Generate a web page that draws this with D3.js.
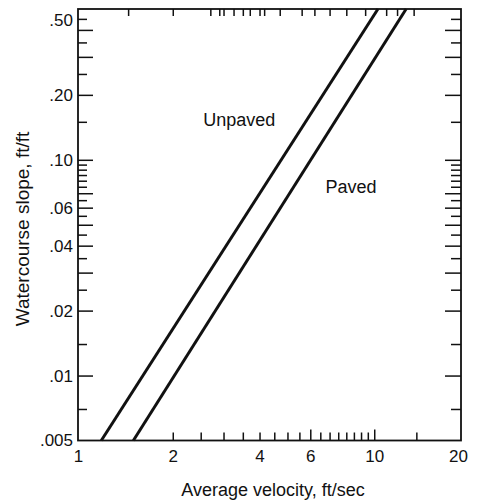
<!DOCTYPE html>
<html><head><meta charset="utf-8">
<script src="https://cdn.jsdelivr.net/npm/d3@7"></script>
<style>
body{margin:0;background:#fff}
svg{display:block}
text{font-family:"Liberation Sans",Arial,Helvetica,sans-serif;fill:#111}
</style>
</head><body>
<svg id="c" width="477" height="502"></svg>
<script>
// ---- data ----
const seriesNames = ["Unpaved", "Paved"];
const slopeEnds = [0.005, 0.5];
const unpavedVelocity = [1.13, 10.3];
const pavedVelocity = [1.46, 12.9];
const labelVelocity = [3.4, 8.3];
const labelSlope = [0.144, 0.070];

const xLabelTicks = [1, 2, 4, 6, 10, 20];
const xBottomTicks = [2, 2.5, 3, 3.5, 4, 4.5, 5, 5.5, 6, 6.5, 7, 7.5, 8, 8.5, 9, 9.5, 10, 14];
const xBottomLongTicks = [6, 10];
const xTopTicks = [1.4, 2, 2.7, 2.9, 3, 3.25, 3.5, 3.7, 4, 4.15, 4.7, 5.6, 6.2, 7, 8, 9.3, 11, 12, 13.7];
const yLabelTicks = [0.5, 0.2, 0.1, 0.06, 0.04, 0.02, 0.01, 0.005];
const yLabelText = [".50", ".20", ".10", ".06", ".04", ".02", ".01", ".005"];
const yLongTicks = [0.4, 0.3, 0.2, 0.1, 0.07, 0.06, 0.05, 0.04, 0.03, 0.02, 0.01];
const yShortTicks = [0.45, 0.35, 0.25, 0.15, 0.095, 0.09, 0.085, 0.08, 0.075, 0.065, 0.055, 0.045, 0.035, 0.025, 0.014, 0.007];

const xTitle = "Average velocity, ft/sec";
const yTitle = "Watercourse slope, ft/ft";

// ---- layout ----
const frame = {left: 78, top: 9, right: 461, bottom: 440.5};
const svg = d3.select("#c");

const x = d3.scaleLog().domain([1, 20]).range([86, frame.right]);
const y = d3.scaleLog().domain([0.005, 0.5]).range([frame.bottom, frame.top]);

function clean(g){ g.select(".domain").remove(); g.selectAll("line").attr("stroke","#111").attr("stroke-width",1.5); }

// left inner ticks
svg.append("g").attr("transform",`translate(${frame.left},0)`)
  .call(d3.axisRight(y).tickValues(yLongTicks).tickSize(15).tickFormat(""))
  .call(clean);
svg.append("g").attr("transform",`translate(${frame.left},0)`)
  .call(d3.axisRight(y).tickValues(yShortTicks).tickSize(9).tickFormat(""))
  .call(clean);
// right inner ticks
svg.append("g").attr("transform",`translate(${frame.right},0)`)
  .call(d3.axisLeft(y).tickValues(yLongTicks).tickSize(16).tickFormat(""))
  .call(clean);
svg.append("g").attr("transform",`translate(${frame.right},0)`)
  .call(d3.axisLeft(y).tickValues(yShortTicks).tickSize(10).tickFormat(""))
  .call(clean);
// bottom inner ticks
svg.append("g").attr("transform",`translate(0,${frame.bottom})`)
  .call(d3.axisTop(x).tickValues(xBottomTicks.filter(v=>!xBottomLongTicks.includes(v))).tickSize(8).tickFormat(""))
  .call(clean);
svg.append("g").attr("transform",`translate(0,${frame.bottom})`)
  .call(d3.axisTop(x).tickValues(xBottomLongTicks).tickSize(11).tickFormat(""))
  .call(clean);
// top inner ticks
svg.append("g").attr("transform",`translate(0,${frame.top})`)
  .call(d3.axisBottom(x).tickValues(xTopTicks).tickSize(7).tickFormat(""))
  .call(clean);

// y labels
const yl = svg.append("g").attr("transform",`translate(${frame.left},0)`)
  .call(d3.axisLeft(y).tickValues(yLabelTicks).tickSize(0).tickPadding(5)
    .tickFormat((d,i)=>yLabelText[i]));
yl.select(".domain").remove();
yl.selectAll("text").attr("font-size",17).attr("fill","#111")
  .attr("font-family",'"Liberation Sans",Arial,sans-serif')
  .attr("dy",(d,i)=> i===0 ? "0.95em" : "0.32em");

// x labels
const xl = svg.append("g").attr("transform",`translate(0,${frame.bottom})`)
  .call(d3.axisBottom(x).tickValues(xLabelTicks).tickSize(0).tickPadding(9)
    .tickFormat(d3.format("d")));
xl.select(".domain").remove();
xl.selectAll("text").attr("font-size",17).attr("fill","#111")
  .attr("font-family",'"Liberation Sans",Arial,sans-serif')
  .attr("dx",(d,i)=> i===0 ? -(x(1)-frame.left) : (i===xLabelTicks.length-1 ? -3 : 0));

// frame
svg.append("rect")
  .attr("x",frame.left).attr("y",frame.top)
  .attr("width",frame.right-frame.left).attr("height",frame.bottom-frame.top)
  .attr("fill","none").attr("stroke","#111").attr("stroke-width",1.8);

// lines
const series = [unpavedVelocity, pavedVelocity].map(v => v.map((vv,i)=>({v:vv, s:slopeEnds[i]})));
const line = d3.line().x(d=>x(d.v)).y(d=>y(d.s));
svg.append("g").selectAll("path").data(series).join("path")
  .attr("d",line).attr("fill","none").attr("stroke","#111").attr("stroke-width",3);

// series labels
svg.append("g").selectAll("text").data(seriesNames).join("text")
  .attr("x",(d,i)=>x(labelVelocity[i])).attr("y",(d,i)=>y(labelSlope[i]))
  .attr("text-anchor","middle").attr("font-size",18).text(d=>d);

// titles
svg.append("text").attr("x",273).attr("y",496).attr("text-anchor","middle")
  .attr("font-size",18).text(xTitle);
svg.append("text").attr("transform","translate(22,229) rotate(-90)")
  .attr("text-anchor","middle").attr("dy","0.35em").attr("font-size",19).text(yTitle);
</script>
</body></html>
